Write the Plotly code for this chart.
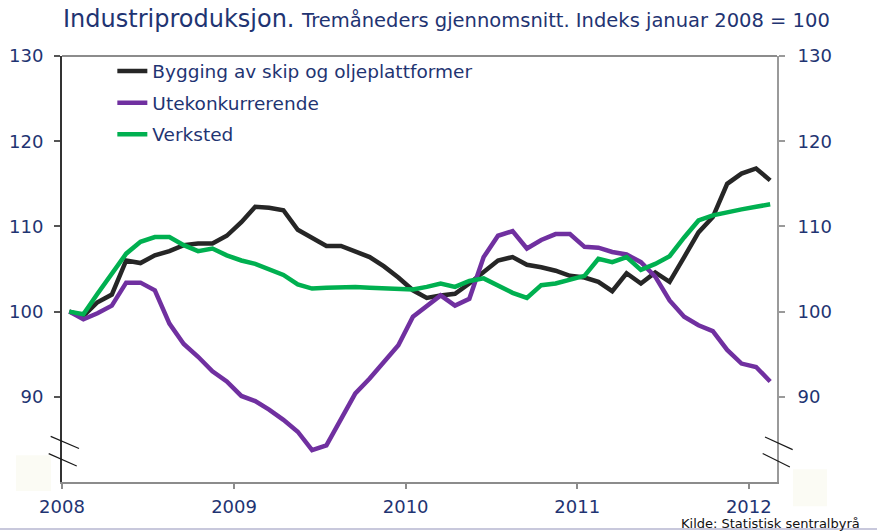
import plotly.graph_objects as go
import pandas as pd

months = pd.date_range("2008-01-01", "2012-02-01", freq="MS")

skip_olje = [100.0, 99.5, 101.1, 102.0, 106.0, 105.7, 106.6, 107.1, 107.8, 108.0,
             108.0, 108.9, 110.5, 112.3, 112.2, 111.9, 109.6, 108.6, 107.7, 107.7,
             107.0, 106.4, 105.3, 104.0, 102.5, 101.6, 101.9, 102.1, 103.3, 104.7,
             106.0, 106.4, 105.5, 105.2, 104.8, 104.2, 104.0, 103.5, 102.4, 104.5,
             103.3, 104.6, 103.5, 106.4, 109.3, 111.1, 115.0, 116.2, 116.8, 115.4]

utekonk = [100.0, 99.1, 99.8, 100.7, 103.4, 103.4, 102.5, 98.6, 96.2, 94.7,
           93.0, 91.8, 90.1, 89.5, 88.5, 87.3, 85.9, 83.75, 84.3, 87.3,
           90.4, 92.15, 94.1, 96.05, 99.4, 100.7, 101.9, 100.7, 101.5, 106.4,
           108.9, 109.45, 107.4, 108.4, 109.1, 109.1, 107.6, 107.5, 107.0, 106.7,
           105.8, 104.1, 101.3, 99.4, 98.4, 97.7, 95.5, 93.9, 93.5, 91.8]

verksted = [100.0, 99.7, 102.1, 104.5, 106.8, 108.2, 108.75, 108.75, 107.8, 107.1,
            107.4, 106.6, 106.0, 105.6, 105.0, 104.3, 103.2, 102.7, 102.8, 102.9,
            102.9, 102.8, 102.7, 102.6, 102.6, 102.9, 103.3, 102.9, 103.6, 103.9,
            103.1, 102.2, 101.6, 103.1, 103.3, 103.8, 104.2, 106.2, 105.8, 106.4,
            104.9, 105.6, 106.5, 108.7, 110.7, 111.3, 111.7, 112.0, 112.3, 112.6]

series_names = ["Bygging av skip og oljeplattformer", "Utekonkurrerende", "Verksted"]
series_colors = ["#262626", "#7030A0", "#00B050"]
year_ticks = ["2008-01-01", "2009-01-01", "2010-01-01", "2011-01-01", "2012-01-01"]
year_labels = ["2008", "2009", "2010", "2011", "2012"]
y_ticks = [90, 100, 110, 120, 130]

NAVY = "#1F3472"
FONT = "DejaVu Sans"

fig = go.Figure()
for i, (name, vals, col) in enumerate(zip(series_names, [skip_olje, utekonk, verksted], series_colors)):
    fig.add_trace(go.Scatter(
        x=months, y=vals, name=name, mode="lines",
        line=dict(color=col, width=4.5),
        xperiod="M1", xperiodalignment="middle",
        legendgroup=f"g{i}",
    ))
# invisible trace for right axis
fig.add_trace(go.Scatter(x=[months[0]], y=[100], yaxis="y2", showlegend=False,
                         mode="markers", marker=dict(opacity=0), hoverinfo="skip"))

fig.update_layout(
    width=877, height=532,
    margin=dict(l=62, r=100, t=56, b=50, autoexpand=False),
    paper_bgcolor="white", plot_bgcolor="white",
    font=dict(family=FONT, color=NAVY),
    showlegend=True,
    legend=dict(x=0.0704, y=1.008, xanchor="left", yanchor="top",
                font=dict(size=18.5, color=NAVY, family=FONT),
                bgcolor="rgba(0,0,0,0)", borderwidth=0,
                traceorder="grouped", tracegroupgap=4.5, itemwidth=30),
    title=dict(
        text="Industriproduksjon. <span style='font-size:19.5px'>Tremåneders gjennomsnitt. Indeks januar 2008 = 100</span>",
        x=63/877, xanchor="left", xref="container",
        y=1 - 19/532, yanchor="middle", yref="container",
        font=dict(size=24, color=NAVY, family=FONT),
        automargin=False,
    ),
    xaxis=dict(
        type="date", range=["2008-01-01", "2012-03-01"],
        tickvals=year_ticks, ticktext=year_labels,
        showgrid=False, zeroline=False, automargin=False,
        showline=True, linecolor="#8C8C8C", linewidth=2,
        ticks="outside", ticklen=5, tickcolor="#8C8C8C", tickwidth=1.5,
        tickfont=dict(size=18, color=NAVY, family=FONT),
        ticklabelstandoff=2,
    ),
    yaxis=dict(
        range=[80, 130], tickvals=y_ticks,
        showgrid=False, zeroline=False, automargin=False,
        showline=True, linecolor="#333333", linewidth=2,
        ticks="outside", ticklen=6, tickcolor="#555555", tickwidth=1.5,
        tickfont=dict(size=18, color=NAVY, family=FONT),
        ticklabelstandoff=7,
    ),
    yaxis2=dict(
        range=[80, 130], tickvals=y_ticks, overlaying="y", side="right",
        showgrid=False, zeroline=False, automargin=False,
        showline=True, linecolor="#9A9A9A", linewidth=2,
        ticks="outside", ticklen=6, tickcolor="#9A9A9A", tickwidth=1.5,
        tickfont=dict(size=18, color=NAVY, family=FONT),
        ticklabelstandoff=9,
    ),
)

shapes = []
# top frame line
shapes.append(dict(type="line", xref="paper", yref="paper", x0=0, x1=1, y0=1, y1=1,
                   line=dict(color="#8C8C8C", width=2)))
# faint boxes behind break marks
shapes.append(dict(type="rect", xref="paper", yref="paper", x0=-0.0643, x1=-0.0154,
                   y0=-0.0211, y1=0.0627, fillcolor="#FBFBF4", line=dict(width=0), layer="below"))
shapes.append(dict(type="rect", xref="paper", yref="paper", x0=1.0224, x1=1.0699,
                   y0=-0.0571, y1=0.0298, fillcolor="#FBFBF4", line=dict(width=0), layer="below"))
# break marks
for (x0, y0, x1, y1) in [(-0.0158, 0.107, 0.0238, 0.0786), (-0.0186, 0.0667, 0.0206, 0.0376),
                         (0.9832, 0.1057, 1.0219, 0.0761), (0.980, 0.0667, 1.018, 0.0352)]:
    shapes.append(dict(type="line", xref="paper", yref="paper", x0=x0, y0=y0, x1=x1, y1=y1,
                       line=dict(color="#1A1A1A", width=1.2)))
# bottom border of the page
shapes.append(dict(type="line", xref="paper", yref="paper", x0=-62/715, x1=815/715,
                   y0=-47/425.7, y1=-47/425.7, line=dict(color="#C8C8DC", width=2)))
fig.update_layout(shapes=shapes)

fig.add_annotation(text="Kilde: Statistisk sentralbyrå", xref="paper", yref="paper",
                   x=800/715, y=-41.5/425.7, xanchor="right", yanchor="middle",
                   showarrow=False, font=dict(size=13, color="#111111", family=FONT))

fig.write_html("out.html", config={"displayModeBar": False},
               post_script="document.body.style.margin='0px';document.body.style.overflow='hidden';")
